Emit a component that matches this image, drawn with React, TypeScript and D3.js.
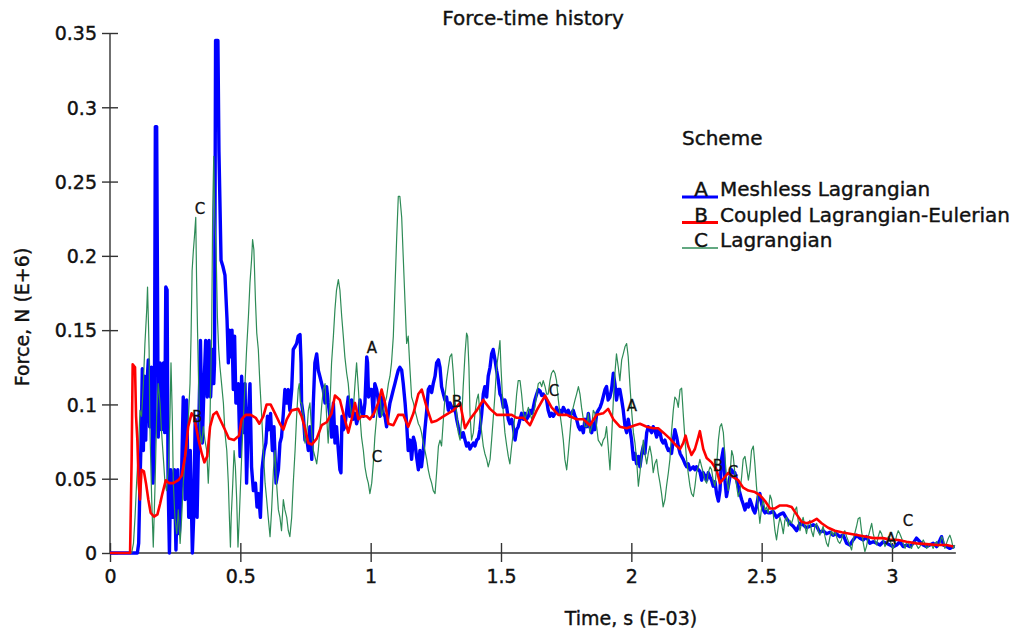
import React, { useEffect, useRef } from 'react';
import { axisBottom, axisLeft, line, scaleLinear, select } from 'd3';

type Pt = [number, number];

const WIDTH = 1019;
const HEIGHT = 634;
const FONT = 'DejaVu Sans, Verdana, sans-serif';
const INK = '#111';

const title = 'Force-time history';
const xTitle = 'Time, s (E-03)';
const yTitle = 'Force, N (E+6)';
const legendTitle = 'Scheme';
const seriesKeys = ['A', 'B', 'C'];
const seriesNames = ['Meshless Lagrangian', 'Coupled Lagrangian-Eulerian', 'Lagrangian'];
const xTicks = [0, 0.5, 1, 1.5, 2, 2.5, 3];
const yTicks = [0, 0.05, 0.1, 0.15, 0.2, 0.25, 0.3, 0.35];

// A - meshless lagrangian  [time (E-03 s), force (E+6 N)]
const meshless: Pt[] = [
  [0, 0], [0.105, 0], [0.110, 0.0065], [0.115, 0.047], [0.120, 0.081], [0.124, 0.124], [0.128, 0.069], [0.132, 0.119],
  [0.137, 0.076], [0.142, 0.114], [0.147, 0.130], [0.152, 0.085], [0.159, 0.125], [0.165, 0.047], [0.170, 0.081],
  [0.174, 0.287], [0.179, 0.287], [0.182, 0.186], [0.185, 0.078], [0.192, 0.128], [0.198, 0.083], [0.205, 0.128],
  [0.210, 0.081], [0.214, 0.179], [0.219, 0.177], [0.223, 0.047], [0.228, 0], [0.233, 0.056], [0.240, 0.024],
  [0.247, 0.056], [0.253, 0.002], [0.260, 0.056], [0.266, 0.013], [0.274, 0.047], [0.281, 0.105], [0.288, 0.036],
  [0.294, 0.103], [0.302, 0.024], [0.308, 0.069], [0.316, 0], [0.321, 0.024], [0.327, 0.090], [0.334, 0.024],
  [0.340, 0.078], [0.347, 0.143], [0.354, 0.074], [0.361, 0.114], [0.367, 0.143], [0.373, 0.105], [0.380, 0.143],
  [0.386, 0.105], [0.393, 0.137], [0.398, 0.114], [0.401, 0.128], [0.405, 0.345], [0.414, 0.345], [0.418, 0.270],
  [0.426, 0.197], [0.433, 0.193], [0.441, 0.187], [0.449, 0.157], [0.454, 0.128], [0.458, 0.150], [0.463, 0.132],
  [0.468, 0.150], [0.473, 0.110], [0.478, 0.146], [0.483, 0.101], [0.492, 0.114], [0.499, 0.065], [0.505, 0.119],
  [0.512, 0.081], [0.518, 0.114], [0.524, 0.047], [0.531, 0.092], [0.537, 0.114], [0.543, 0.058], [0.550, 0.042],
  [0.558, 0.047], [0.564, 0.031], [0.570, 0.040], [0.577, 0.024], [0.583, 0.056], [0.591, 0.069], [0.598, 0.074],
  [0.604, 0.092], [0.610, 0.083], [0.616, 0.094], [0.623, 0.069], [0.629, 0.085], [0.637, 0.047], [0.646, 0.056],
  [0.652, 0.074], [0.658, 0.078], [0.665, 0.094], [0.671, 0.110], [0.678, 0.101], [0.684, 0.110], [0.690, 0.096],
  [0.697, 0.110], [0.703, 0.137], [0.710, 0.139], [0.716, 0.141], [0.722, 0.146], [0.729, 0.147], [0.733, 0.128],
  [0.735, 0.101], [0.742, 0.092], [0.748, 0.076], [0.754, 0.078], [0.761, 0.069], [0.767, 0.085], [0.774, 0.063],
  [0.780, 0.101], [0.786, 0.128], [0.793, 0.134], [0.799, 0.123], [0.805, 0.119], [0.812, 0.114], [0.818, 0.110],
  [0.825, 0.101], [0.831, 0.112], [0.837, 0.101], [0.844, 0.092], [0.850, 0.078], [0.857, 0.101], [0.863, 0.074],
  [0.869, 0.085], [0.876, 0.069], [0.882, 0.056], [0.886, 0.054], [0.890, 0.092], [0.895, 0.083], [0.901, 0.085],
  [0.908, 0.096], [0.914, 0.105], [0.920, 0.092], [0.927, 0.103], [0.933, 0.090], [0.940, 0.094], [0.946, 0.087],
  [0.953, 0.092], [0.959, 0.103], [0.965, 0.096], [0.972, 0.092], [0.978, 0.101], [0.985, 0.132], [0.988, 0.128],
  [0.992, 0.105], [0.997, 0.110], [1.004, 0.110], [1.010, 0.092], [1.016, 0.114], [1.023, 0.110], [1.029, 0.103],
  [1.036, 0.092], [1.042, 0.105], [1.048, 0.094], [1.055, 0.092], [1.061, 0.085], [1.068, 0.094], [1.074, 0.101],
  [1.080, 0.105], [1.087, 0.110], [1.093, 0.114], [1.100, 0.119], [1.106, 0.123], [1.112, 0.125], [1.119, 0.123],
  [1.125, 0.114], [1.132, 0.101], [1.138, 0.087], [1.144, 0.069], [1.151, 0.076], [1.157, 0.063], [1.164, 0.078],
  [1.170, 0.074], [1.176, 0.065], [1.183, 0.056], [1.189, 0.069], [1.195, 0.058], [1.202, 0.069], [1.208, 0.083],
  [1.215, 0.096], [1.221, 0.110], [1.227, 0.112], [1.234, 0.108], [1.240, 0.114], [1.247, 0.119], [1.253, 0.128],
  [1.260, 0.130], [1.266, 0.125], [1.272, 0.112], [1.279, 0.107], [1.285, 0.103], [1.291, 0.105], [1.298, 0.096],
  [1.304, 0.101], [1.311, 0.098], [1.317, 0.096], [1.323, 0.098], [1.330, 0.090], [1.336, 0.085], [1.343, 0.081],
  [1.349, 0.078], [1.355, 0.081], [1.362, 0.076], [1.368, 0.072], [1.375, 0.074], [1.381, 0.070], [1.387, 0.072],
  [1.394, 0.074], [1.400, 0.072], [1.407, 0.076], [1.413, 0.077], [1.419, 0.083], [1.426, 0.094], [1.432, 0.107],
  [1.438, 0.112], [1.445, 0.105], [1.451, 0.119], [1.458, 0.125], [1.464, 0.134], [1.470, 0.137], [1.477, 0.130],
  [1.483, 0.123], [1.490, 0.116], [1.496, 0.107], [1.502, 0.105], [1.509, 0.098], [1.515, 0.103], [1.522, 0.098],
  [1.528, 0.090], [1.534, 0.087], [1.541, 0.090], [1.547, 0.085], [1.554, 0.076], [1.560, 0.083], [1.566, 0.085],
  [1.573, 0.090], [1.579, 0.094], [1.586, 0.090], [1.592, 0.094], [1.598, 0.090], [1.605, 0.092], [1.611, 0.096],
  [1.618, 0.094], [1.624, 0.098], [1.630, 0.103], [1.637, 0.107], [1.643, 0.110], [1.650, 0.109], [1.656, 0.106],
  [1.662, 0.107], [1.669, 0.105], [1.675, 0.103], [1.681, 0.096], [1.688, 0.092], [1.694, 0.094], [1.701, 0.092],
  [1.707, 0.094], [1.713, 0.098], [1.720, 0.094], [1.726, 0.096], [1.733, 0.094], [1.739, 0.098], [1.745, 0.096],
  [1.752, 0.094], [1.758, 0.096], [1.765, 0.092], [1.771, 0.094], [1.777, 0.096], [1.784, 0.092], [1.790, 0.090],
  [1.797, 0.085], [1.803, 0.083], [1.809, 0.085], [1.816, 0.081], [1.822, 0.090], [1.829, 0.085], [1.835, 0.094],
  [1.841, 0.085], [1.848, 0.081], [1.854, 0.087], [1.860, 0.083], [1.867, 0.094], [1.873, 0.096], [1.880, 0.098],
  [1.886, 0.101], [1.892, 0.105], [1.899, 0.110], [1.905, 0.112], [1.911, 0.103], [1.918, 0.105], [1.924, 0.110],
  [1.931, 0.121], [1.937, 0.114], [1.943, 0.103], [1.950, 0.110], [1.956, 0.110], [1.963, 0.103], [1.969, 0.096],
  [1.976, 0.085], [1.982, 0.081], [1.988, 0.090], [1.995, 0.083], [2.001, 0.076], [2.008, 0.063], [2.014, 0.067],
  [2.020, 0.060], [2.027, 0.065], [2.033, 0.058], [2.040, 0.067], [2.046, 0.072], [2.052, 0.067], [2.059, 0.081],
  [2.065, 0.085], [2.071, 0.083], [2.078, 0.081], [2.084, 0.085], [2.090, 0.083], [2.097, 0.078], [2.103, 0.083],
  [2.110, 0.081], [2.116, 0.076], [2.122, 0.074], [2.129, 0.076], [2.135, 0.072], [2.142, 0.069], [2.148, 0.070],
  [2.154, 0.067], [2.161, 0.076], [2.167, 0.083], [2.174, 0.078], [2.180, 0.072], [2.187, 0.067], [2.193, 0.065],
  [2.199, 0.063], [2.206, 0.060], [2.212, 0.058], [2.218, 0.060], [2.225, 0.056], [2.231, 0.057], [2.238, 0.058],
  [2.244, 0.056], [2.250, 0.058], [2.257, 0.056], [2.263, 0.055], [2.270, 0.049], [2.276, 0.054], [2.282, 0.052],
  [2.289, 0.049], [2.295, 0.054], [2.302, 0.051], [2.308, 0.049], [2.314, 0.045], [2.321, 0.048], [2.327, 0.040],
  [2.334, 0.035], [2.340, 0.042], [2.346, 0.063], [2.353, 0.070], [2.359, 0.049], [2.365, 0.038], [2.372, 0.045],
  [2.378, 0.051], [2.385, 0.056], [2.391, 0.054], [2.397, 0.054], [2.404, 0.049], [2.410, 0.045], [2.417, 0.040],
  [2.423, 0.036], [2.429, 0.033], [2.436, 0.029], [2.442, 0.033], [2.449, 0.031], [2.455, 0.036], [2.461, 0.033],
  [2.468, 0.029], [2.474, 0.027], [2.480, 0.031], [2.487, 0.038], [2.493, 0.040], [2.500, 0.033], [2.506, 0.029],
  [2.513, 0.027], [2.519, 0.028], [2.525, 0.027], [2.532, 0.027], [2.544, 0.028], [2.557, 0.024], [2.570, 0.026],
  [2.583, 0.027], [2.596, 0.023], [2.608, 0.020], [2.621, 0.018], [2.634, 0.015], [2.647, 0.020], [2.659, 0.019],
  [2.672, 0.017], [2.685, 0.018], [2.698, 0.019], [2.711, 0.018], [2.723, 0.014], [2.736, 0.015], [2.749, 0.013],
  [2.762, 0.014], [2.774, 0.012], [2.787, 0.013], [2.800, 0.011], [2.813, 0.012], [2.826, 0.0065], [2.838, 0.0054],
  [2.851, 0.0088], [2.864, 0.012], [2.877, 0.010], [2.890, 0.0088], [2.902, 0.011], [2.915, 0.0065], [2.928, 0.0076],
  [2.941, 0.0065], [2.954, 0.0054], [2.966, 0.0076], [2.979, 0.0065], [2.992, 0.0054], [3.005, 0.0043], [3.018, 0.0054],
  [3.030, 0.0076], [3.043, 0.0043], [3.056, 0.0054], [3.069, 0.0043], [3.081, 0.0065], [3.094, 0.010], [3.107, 0.0076],
  [3.120, 0.0054], [3.133, 0.0043], [3.145, 0.0054], [3.158, 0.0065], [3.171, 0.0043], [3.184, 0.0088], [3.190, 0.011],
  [3.197, 0.0054], [3.209, 0.0043], [3.222, 0.0031], [3.235, 0.0043], [3.241, 0.0043],
];

// B - coupled lagrangian-eulerian
const coupled: Pt[] = [
  [0, 0], [0.077, 0], [0.083, 0.063], [0.087, 0.127], [0.096, 0.125], [0.100, 0.092], [0.105, 0.076], [0.110, 0.047],
  [0.115, 0.036], [0.121, 0.056], [0.130, 0.055], [0.138, 0.047], [0.147, 0.036], [0.156, 0.027], [0.169, 0.0245],
  [0.182, 0.026], [0.192, 0.033], [0.201, 0.040], [0.214, 0.049], [0.226, 0.047], [0.243, 0.047], [0.262, 0.049],
  [0.275, 0.052], [0.288, 0.065], [0.300, 0.085], [0.313, 0.094], [0.322, 0.092], [0.330, 0.085], [0.340, 0.076],
  [0.352, 0.067], [0.362, 0.061], [0.373, 0.065], [0.384, 0.085], [0.396, 0.093], [0.409, 0.095], [0.422, 0.090],
  [0.441, 0.083], [0.456, 0.077], [0.476, 0.076], [0.495, 0.079], [0.505, 0.090], [0.520, 0.093], [0.540, 0.093],
  [0.559, 0.091], [0.573, 0.087], [0.588, 0.092], [0.601, 0.100], [0.616, 0.100], [0.633, 0.094], [0.652, 0.087],
  [0.665, 0.083], [0.678, 0.090], [0.697, 0.096], [0.722, 0.097], [0.735, 0.092], [0.748, 0.084], [0.761, 0.074],
  [0.774, 0.073], [0.793, 0.077], [0.812, 0.086], [0.831, 0.088], [0.850, 0.094], [0.863, 0.106], [0.882, 0.103],
  [0.895, 0.094], [0.914, 0.081], [0.927, 0.090], [0.940, 0.101], [0.953, 0.090], [0.965, 0.092], [0.985, 0.092],
  [0.997, 0.090], [1.013, 0.094], [1.029, 0.101], [1.042, 0.110], [1.055, 0.101], [1.068, 0.087], [1.087, 0.086],
  [1.106, 0.093], [1.125, 0.093], [1.144, 0.085], [1.164, 0.094], [1.183, 0.107], [1.196, 0.110], [1.215, 0.098],
  [1.234, 0.088], [1.253, 0.089], [1.279, 0.092], [1.317, 0.096], [1.343, 0.101], [1.362, 0.084], [1.381, 0.090],
  [1.407, 0.096], [1.432, 0.103], [1.458, 0.097], [1.483, 0.093], [1.509, 0.093], [1.541, 0.093], [1.560, 0.091],
  [1.586, 0.091], [1.611, 0.086], [1.637, 0.096], [1.669, 0.106], [1.694, 0.098], [1.720, 0.093], [1.752, 0.093],
  [1.790, 0.090], [1.816, 0.090], [1.841, 0.086], [1.867, 0.093], [1.892, 0.094], [1.911, 0.097], [1.931, 0.090],
  [1.956, 0.085], [1.982, 0.084], [2.014, 0.086], [2.033, 0.087], [2.059, 0.085], [2.084, 0.084], [2.103, 0.084],
  [2.123, 0.081], [2.148, 0.077], [2.174, 0.072], [2.187, 0.070], [2.199, 0.074], [2.208, 0.079], [2.218, 0.072],
  [2.231, 0.066], [2.244, 0.070], [2.257, 0.078], [2.263, 0.082], [2.276, 0.070], [2.289, 0.064], [2.308, 0.061],
  [2.327, 0.056], [2.340, 0.047], [2.353, 0.050], [2.372, 0.054], [2.391, 0.051], [2.410, 0.049], [2.429, 0.044],
  [2.449, 0.042], [2.474, 0.041], [2.493, 0.039], [2.513, 0.035], [2.532, 0.030], [2.551, 0.030], [2.570, 0.032],
  [2.596, 0.032], [2.615, 0.031], [2.634, 0.026], [2.653, 0.021], [2.672, 0.020], [2.691, 0.021], [2.711, 0.023],
  [2.730, 0.020], [2.755, 0.017], [2.781, 0.015], [2.807, 0.014], [2.838, 0.013], [2.870, 0.012], [2.902, 0.011],
  [2.928, 0.010], [2.966, 0.010], [2.992, 0.009], [3.024, 0.0088], [3.056, 0.0076], [3.094, 0.0065], [3.133, 0.006],
  [3.171, 0.0054], [3.209, 0.0054], [3.235, 0.0043],
];

// C - lagrangian
const lagrangian: Pt[] = [
  [0, 0], [0.083, 0], [0.090, 0.0065], [0.096, 0.024], [0.102, 0.047], [0.109, 0.069], [0.115, 0.096], [0.121, 0.092],
  [0.128, 0.114], [0.134, 0.141], [0.141, 0.164], [0.144, 0.179], [0.150, 0.137], [0.153, 0.085], [0.160, 0.036],
  [0.166, 0.004], [0.173, 0.047], [0.179, 0.092], [0.185, 0.114], [0.192, 0.101], [0.198, 0.081], [0.205, 0.063],
  [0.211, 0.047], [0.217, 0.042], [0.224, 0.058], [0.230, 0.092], [0.234, 0.128], [0.239, 0.092], [0.243, 0.047],
  [0.249, 0.024], [0.256, 0.013], [0.262, 0.029], [0.269, 0.0065], [0.275, 0.024], [0.281, 0.047], [0.288, 0.063],
  [0.294, 0.069], [0.301, 0.092], [0.307, 0.114], [0.311, 0.146], [0.315, 0.190], [0.320, 0.204], [0.324, 0.213],
  [0.329, 0.226], [0.332, 0.186], [0.336, 0.148], [0.340, 0.114], [0.345, 0.081], [0.352, 0.074], [0.358, 0.085],
  [0.364, 0.076], [0.371, 0.069], [0.377, 0.047], [0.381, 0.063], [0.386, 0.114], [0.390, 0.148], [0.394, 0.231],
  [0.398, 0.267], [0.402, 0.226], [0.407, 0.204], [0.412, 0.159], [0.417, 0.137], [0.422, 0.125], [0.428, 0.114],
  [0.435, 0.101], [0.441, 0.081], [0.448, 0.069], [0.454, 0.047], [0.458, 0.024], [0.462, 0.004], [0.465, 0.024],
  [0.471, 0.047], [0.476, 0.069], [0.481, 0.058], [0.486, 0.036], [0.491, 0.004], [0.496, 0.024], [0.501, 0.047],
  [0.506, 0.069], [0.512, 0.092], [0.518, 0.114], [0.524, 0.137], [0.531, 0.159], [0.537, 0.182], [0.543, 0.197],
  [0.547, 0.211], [0.552, 0.204], [0.558, 0.170], [0.563, 0.148], [0.569, 0.137], [0.575, 0.114], [0.582, 0.092],
  [0.588, 0.069], [0.595, 0.047], [0.601, 0.036], [0.607, 0.024], [0.614, 0.011], [0.620, 0.029], [0.627, 0.056],
  [0.633, 0.069], [0.639, 0.047], [0.646, 0.029], [0.652, 0.024], [0.658, 0.015], [0.665, 0.036], [0.671, 0.029],
  [0.678, 0.024], [0.684, 0.015], [0.690, 0.011], [0.697, 0.024], [0.703, 0.047], [0.710, 0.069], [0.716, 0.092],
  [0.722, 0.110], [0.726, 0.114], [0.731, 0.101], [0.735, 0.101], [0.742, 0.092], [0.748, 0.074], [0.754, 0.078],
  [0.761, 0.096], [0.767, 0.101], [0.774, 0.081], [0.780, 0.069], [0.786, 0.065], [0.793, 0.060], [0.799, 0.069],
  [0.805, 0.083], [0.812, 0.099], [0.818, 0.110], [0.825, 0.114], [0.831, 0.092], [0.837, 0.074], [0.844, 0.101],
  [0.850, 0.128], [0.857, 0.146], [0.863, 0.164], [0.869, 0.177], [0.876, 0.184], [0.882, 0.177], [0.889, 0.159],
  [0.895, 0.146], [0.901, 0.132], [0.908, 0.121], [0.914, 0.114], [0.920, 0.101], [0.927, 0.092], [0.933, 0.096],
  [0.940, 0.114], [0.946, 0.128], [0.953, 0.110], [0.959, 0.092], [0.965, 0.078], [0.972, 0.069], [0.978, 0.058],
  [0.985, 0.051], [0.991, 0.047], [0.997, 0.040], [1.004, 0.047], [1.010, 0.060], [1.016, 0.078], [1.023, 0.092],
  [1.029, 0.101], [1.036, 0.105], [1.042, 0.092], [1.048, 0.096], [1.055, 0.101], [1.061, 0.105], [1.068, 0.114],
  [1.074, 0.119], [1.080, 0.128], [1.087, 0.146], [1.093, 0.177], [1.100, 0.213], [1.106, 0.240], [1.112, 0.240],
  [1.119, 0.226], [1.125, 0.199], [1.132, 0.168], [1.138, 0.141], [1.144, 0.146], [1.151, 0.123], [1.157, 0.105],
  [1.164, 0.101], [1.170, 0.096], [1.176, 0.092], [1.183, 0.087], [1.189, 0.085], [1.195, 0.081], [1.202, 0.074],
  [1.208, 0.069], [1.215, 0.063], [1.221, 0.056], [1.227, 0.051], [1.234, 0.047], [1.240, 0.042], [1.247, 0.040],
  [1.253, 0.054], [1.260, 0.072], [1.266, 0.076], [1.272, 0.072], [1.279, 0.090], [1.285, 0.105], [1.291, 0.116],
  [1.298, 0.125], [1.304, 0.132], [1.311, 0.134], [1.317, 0.121], [1.323, 0.103], [1.330, 0.094], [1.336, 0.081],
  [1.343, 0.076], [1.349, 0.090], [1.355, 0.112], [1.362, 0.134], [1.368, 0.148], [1.372, 0.146], [1.377, 0.125],
  [1.381, 0.094], [1.387, 0.076], [1.394, 0.081], [1.400, 0.094], [1.407, 0.103], [1.413, 0.107], [1.419, 0.094],
  [1.426, 0.081], [1.432, 0.072], [1.438, 0.067], [1.445, 0.063], [1.451, 0.058], [1.458, 0.063], [1.464, 0.076],
  [1.470, 0.090], [1.477, 0.107], [1.483, 0.125], [1.490, 0.134], [1.496, 0.143], [1.500, 0.125], [1.505, 0.107],
  [1.509, 0.094], [1.515, 0.081], [1.522, 0.072], [1.528, 0.065], [1.534, 0.060], [1.541, 0.072], [1.547, 0.081],
  [1.554, 0.094], [1.560, 0.107], [1.566, 0.116], [1.573, 0.116], [1.579, 0.107], [1.586, 0.094], [1.592, 0.090],
  [1.598, 0.094], [1.605, 0.098], [1.611, 0.094], [1.618, 0.090], [1.624, 0.094], [1.630, 0.098], [1.637, 0.107],
  [1.643, 0.114], [1.650, 0.115], [1.656, 0.112], [1.662, 0.116], [1.669, 0.112], [1.675, 0.107], [1.681, 0.107],
  [1.688, 0.116], [1.694, 0.121], [1.701, 0.123], [1.707, 0.121], [1.713, 0.116], [1.720, 0.103], [1.726, 0.094],
  [1.733, 0.085], [1.739, 0.076], [1.745, 0.063], [1.752, 0.056], [1.758, 0.067], [1.765, 0.081], [1.771, 0.094],
  [1.777, 0.098], [1.784, 0.103], [1.790, 0.107], [1.797, 0.112], [1.803, 0.107], [1.809, 0.098], [1.816, 0.090],
  [1.822, 0.085], [1.829, 0.085], [1.835, 0.094], [1.841, 0.081], [1.848, 0.085], [1.854, 0.096], [1.860, 0.094],
  [1.867, 0.085], [1.873, 0.076], [1.880, 0.074], [1.886, 0.072], [1.892, 0.076], [1.899, 0.078], [1.905, 0.085],
  [1.911, 0.072], [1.918, 0.056], [1.924, 0.076], [1.931, 0.103], [1.937, 0.121], [1.943, 0.134], [1.950, 0.125],
  [1.956, 0.116], [1.963, 0.130], [1.969, 0.134], [1.976, 0.139], [1.982, 0.141], [1.988, 0.132], [1.995, 0.112],
  [2.001, 0.096], [2.008, 0.081], [2.014, 0.074], [2.020, 0.063], [2.027, 0.045], [2.033, 0.054], [2.040, 0.067],
  [2.046, 0.076], [2.052, 0.067], [2.059, 0.060], [2.065, 0.067], [2.071, 0.072], [2.078, 0.065], [2.084, 0.054],
  [2.090, 0.060], [2.097, 0.063], [2.103, 0.054], [2.110, 0.047], [2.116, 0.040], [2.122, 0.031], [2.129, 0.036],
  [2.135, 0.045], [2.142, 0.054], [2.148, 0.063], [2.154, 0.081], [2.161, 0.096], [2.167, 0.105], [2.174, 0.103],
  [2.180, 0.098], [2.187, 0.110], [2.193, 0.111], [2.199, 0.094], [2.206, 0.076], [2.212, 0.063], [2.218, 0.054],
  [2.225, 0.045], [2.231, 0.040], [2.238, 0.038], [2.244, 0.045], [2.250, 0.054], [2.257, 0.058], [2.263, 0.063],
  [2.270, 0.058], [2.276, 0.054], [2.282, 0.049], [2.289, 0.047], [2.295, 0.054], [2.302, 0.058], [2.308, 0.056],
  [2.314, 0.049], [2.321, 0.045], [2.327, 0.058], [2.334, 0.076], [2.340, 0.085], [2.346, 0.087], [2.353, 0.081],
  [2.359, 0.065], [2.365, 0.051], [2.372, 0.042], [2.378, 0.051], [2.385, 0.069], [2.391, 0.065], [2.397, 0.054],
  [2.404, 0.045], [2.410, 0.038], [2.417, 0.042], [2.423, 0.051], [2.429, 0.063], [2.436, 0.065], [2.442, 0.058],
  [2.449, 0.049], [2.455, 0.056], [2.461, 0.069], [2.468, 0.072], [2.474, 0.060], [2.480, 0.045], [2.487, 0.031],
  [2.493, 0.020], [2.500, 0.031], [2.506, 0.036], [2.513, 0.029], [2.519, 0.031], [2.525, 0.027], [2.532, 0.039],
  [2.538, 0.036], [2.544, 0.027], [2.551, 0.015], [2.557, 0.0088], [2.564, 0.018], [2.570, 0.024], [2.576, 0.020],
  [2.583, 0.013], [2.589, 0.022], [2.596, 0.024], [2.602, 0.018], [2.608, 0.022], [2.615, 0.020], [2.621, 0.024],
  [2.628, 0.029], [2.634, 0.031], [2.640, 0.022], [2.647, 0.015], [2.653, 0.020], [2.659, 0.024], [2.666, 0.018],
  [2.672, 0.013], [2.679, 0.020], [2.685, 0.022], [2.691, 0.015], [2.698, 0.011], [2.704, 0.018], [2.711, 0.020],
  [2.717, 0.015], [2.723, 0.012], [2.730, 0.015], [2.736, 0.018], [2.743, 0.011], [2.749, 0.0065], [2.755, 0.0043],
  [2.762, 0.011], [2.768, 0.015], [2.774, 0.012], [2.781, 0.015], [2.787, 0.011], [2.794, 0.0076], [2.800, 0.0065],
  [2.806, 0.0088], [2.813, 0.013], [2.819, 0.015], [2.826, 0.011], [2.838, 0.0054], [2.845, 0.002], [2.851, 0.0088],
  [2.864, 0.018], [2.870, 0.023], [2.877, 0.024], [2.883, 0.015], [2.890, 0.0065], [2.896, 0.001], [2.902, 0.0043],
  [2.909, 0.011], [2.915, 0.015], [2.922, 0.020], [2.928, 0.013], [2.934, 0.0088], [2.941, 0.0054], [2.947, 0.011],
  [2.954, 0.015], [2.960, 0.013], [2.966, 0.0088], [2.973, 0.0043], [2.979, 0.0065], [2.986, 0.011], [2.992, 0.0088],
  [2.998, 0.0054], [3.005, 0.0031], [3.011, 0.0065], [3.018, 0.012], [3.024, 0.015], [3.030, 0.013], [3.037, 0.0099],
  [3.043, 0.0065], [3.050, 0.0031], [3.056, 0.0065], [3.062, 0.0076], [3.069, 0.0043], [3.075, 0.0031], [3.081, 0.0065],
  [3.088, 0.0076], [3.094, 0.0054], [3.101, 0.0031], [3.107, 0.0043], [3.113, 0.0065], [3.120, 0.0088], [3.126, 0.0065],
  [3.133, 0.0031], [3.139, 0.0043], [3.145, 0.0065], [3.152, 0.0054], [3.158, 0.0031], [3.164, 0.0065], [3.171, 0.0076],
  [3.177, 0.0043], [3.184, 0.0065], [3.190, 0.011], [3.197, 0.0088], [3.203, 0.0031], [3.209, 0.0065], [3.216, 0.0099],
  [3.222, 0.012], [3.228, 0.0088], [3.235, 0.0031], [3.241, 0.0054],
];

// letters the plotting program drops along each curve
const markKeys = ['C', 'B', 'A', 'C', 'B', 'C', 'A', 'B', 'C', 'A', 'C'];
const markTimes = [0.345, 0.334, 1.005, 1.024, 1.331, 1.703, 2.002, 2.332, 2.39, 2.996, 3.061];
const markForces = [0.232, 0.092, 0.138, 0.065, 0.102, 0.109, 0.099, 0.059, 0.055, 0.01, 0.022];

const colors = ['#0000ff', '#ff0000', '#2e8b57'];
const widths = [3.4, 2.6, 1.2];

const x = scaleLinear().domain([0, 3]).range([110, 892]);
const y = scaleLinear().domain([0, 0.35]).range([553, 33]);
const xEnd = 3.245;

const path = line<Pt>()
  .x((d) => x(d[0]))
  .y((d) => y(d[1]));

const series = [meshless, coupled, lagrangian];
// blue first, then green, red on top
const drawOrder = [0, 2, 1];

const App = () => {
  const xAxisRef = useRef<SVGGElement>(null);
  const yAxisRef = useRef<SVGGElement>(null);

  useEffect(() => {
    const gx = select(xAxisRef.current);
    gx.call(
      axisBottom(x)
        .tickValues(xTicks)
        .tickSizeInner(8)
        .tickSizeOuter(0)
        .tickFormat((d) => String(d))
    );
    gx.select('.domain').remove();
    gx.attr('font-family', FONT).attr('font-size', 19);
    gx.selectAll('.tick line').attr('y1', -10).attr('y2', 9).attr('stroke', '#333').attr('stroke-width', 1.4);
    gx.selectAll('.tick text')
      .attr('y', 30)
      .attr('dy', null)
      .attr('fill', INK)
      .attr('stroke', INK)
      .attr('stroke-width', 0.4);

    const gy = select(yAxisRef.current);
    gy.call(
      axisLeft(y)
        .tickValues(yTicks)
        .tickSizeInner(8)
        .tickSizeOuter(0)
        .tickFormat((d) => String(d))
    );
    gy.select('.domain').remove();
    gy.attr('font-family', FONT).attr('font-size', 19);
    gy.selectAll('.tick line').attr('x1', 8).attr('x2', -8).attr('stroke', '#333').attr('stroke-width', 1.4);
    gy.selectAll('.tick text')
      .attr('x', -13)
      .attr('dy', '0.36em')
      .attr('fill', INK)
      .attr('stroke', INK)
      .attr('stroke-width', 0.4);
  }, []);

  return (
    <svg
      width={WIDTH}
      height={HEIGHT}
      style={{ position: 'absolute', left: 0, top: 0, background: '#fff' }}
    >
      <g fontFamily={FONT} fill={INK} stroke={INK} strokeWidth={0.4}>
        <text x={533} y={25} textAnchor="middle" fontSize={20}>
          {title}
        </text>
        <text x={631} y={625} textAnchor="middle" fontSize={19}>
          {xTitle}
        </text>
        <text transform="translate(29,317) rotate(-90)" textAnchor="middle" fontSize={19}>
          {yTitle}
        </text>
      </g>

      <line x1={x(0)} x2={x(xEnd)} y1={y(0)} y2={y(0)} stroke="#333" strokeWidth={1.4} />
      <line x1={x(0)} x2={x(0)} y1={y(0)} y2={y(0.35)} stroke="#333" strokeWidth={1.4} />
      <g ref={xAxisRef} transform={`translate(0,${y(0)})`} />
      <g ref={yAxisRef} transform={`translate(${x(0)},0)`} />

      {drawOrder.map((i) => (
        <path
          key={seriesKeys[i]}
          d={path(series[i]) || ''}
          fill="none"
          stroke={colors[i]}
          strokeWidth={widths[i]}
          strokeLinejoin="round"
        />
      ))}

      {markKeys.map((k, i) => (
        <text
          key={i}
          x={x(markTimes[i])}
          y={y(markForces[i])}
          dy="0.36em"
          textAnchor="middle"
          fontFamily={FONT}
          fontSize={15}
          fill={INK}
          stroke={INK}
          strokeWidth={0.3}
        >
          {k}
        </text>
      ))}

      <g fontFamily={FONT} fontSize={20} fill={INK}>
        <text x={682} y={145} stroke={INK} strokeWidth={0.4}>
          {legendTitle}
        </text>
        {seriesKeys.map((k, i) => {
          const ly = 197 + i * 25.5;
          return (
            <g key={k}>
              <line x1={682} x2={718} y1={ly} y2={ly} stroke={colors[i]} strokeWidth={i === 2 ? 1.5 : 3} />
              <text x={701} y={ly - 1} textAnchor="middle" stroke={INK} strokeWidth={0.4}>
                {k}
              </text>
              <text x={720} y={ly - 1} stroke={INK} strokeWidth={0.4}>
                {seriesNames[i]}
              </text>
            </g>
          );
        })}
      </g>
    </svg>
  );
};

export default App;
